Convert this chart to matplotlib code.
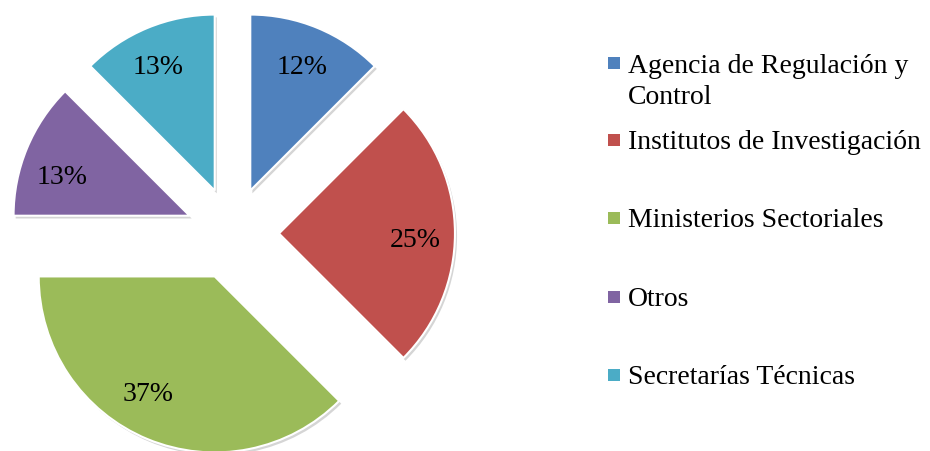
import matplotlib
matplotlib.use("Agg")
import matplotlib.pyplot as plt
from matplotlib.patches import Rectangle
import matplotlib.patheffects as pe

categories = ["Agencia de Regulación y\nControl", "Institutos de Investigación",
              "Ministerios Sectoriales", "Otros", "Secretarías Técnicas"]
values = [2, 4, 6, 2, 2]
pct_labels = ["12%", "25%", "37%", "13%", "13%"]
colors = ["#4F81BD", "#C0504D", "#9BBB59", "#8064A2", "#4BACC6"]

W, H = 930, 452
fig = plt.figure(figsize=(W / 100, H / 100), dpi=100)
ax = fig.add_axes([0, 0, 1, 1])
ax.axis("off")

# pie centre / radius in pixels
cx, cy, r = 232.5, 452 - 234.5, 176
font = "Liberation Serif"
fs = 20

wedges, texts = ax.pie(values, colors=colors, startangle=90, counterclock=False,
                       explode=[0.264] * len(values), labels=pct_labels,
                       labeldistance=0.76,
                       wedgeprops=dict(edgecolor="white", linewidth=1.5),
                       textprops=dict(fontsize=fs, family=font, color="black"))
# small nudges (pixels, x right / y down) to match the original label placement
nudges = [(1, 0), (3, 6), (-15, -7), (-4, 12), (-5, 0)]
for t, (dx, dy) in zip(texts, nudges):
    x, y = t.get_position()
    t.set_position((x + dx / r, y - dy / r))
    t.set_ha("center")
    t.set_va("center")
for w in wedges:
    w.set_path_effects([pe.SimplePatchShadow(offset=(1.5, -2), shadow_rgbFace="#888888", alpha=0.35),
                        pe.Normal()])

ax.set_aspect("auto")
ax.set_xlim(-cx / r, (W - cx) / r)
ax.set_ylim(-cy / r, (H - cy) / r)

# legend (square centres in pixels from top)
rows_y = [64, 141, 219, 297.5, 376]
line_h = 31
for lab, col, y in zip(categories, colors, rows_y):
    fig.patches.append(Rectangle((608 / W, 1 - (y + 6) / H), 12 / W, 12 / H,
                                 transform=fig.transFigure, facecolor=col, edgecolor="none"))
    # baseline of the last line
    yb = y + 8.5 + lab.count("\n") * line_h
    fig.text(628 / W, 1 - yb / H, lab, fontsize=fs, family=font,
             va="baseline", ha="left", linespacing=1.3)

fig.savefig("out.png", dpi=100)
